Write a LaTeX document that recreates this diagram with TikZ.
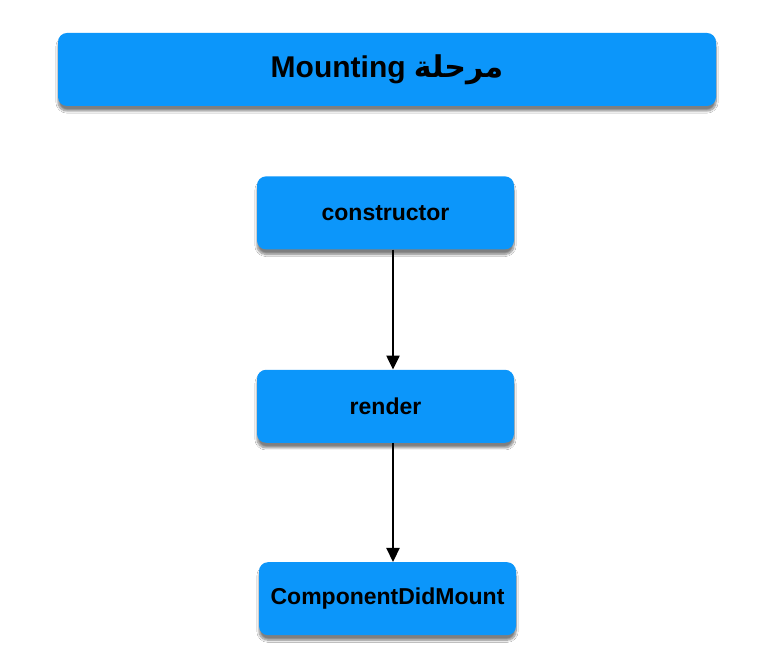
\documentclass[tikz,border=0pt]{standalone}
\usepackage{fontspec}
\setmainfont{Liberation Sans}
\newfontfamily\arabicfont[Script=Arabic]{DejaVu Sans}
\TeXXeTstate=1
\usepackage{tikz}
\usetikzlibrary{positioning,shadows.blur,arrows.meta}
\definecolor{mountblue}{RGB}{12,150,250}
\tikzset{
  phase/.style={fill=mountblue, rounded corners=9pt, minimum height=73pt,
    font=\fontsize{23pt}{27pt}\selectfont\bfseries, text=black,
    blur shadow={shadow xshift=0pt, shadow yshift=-5pt, shadow blur steps=10, shadow opacity=50}},
  stage/.style={phase, minimum width=257pt},
  flow/.style={-{Triangle[length=14pt,width=13pt]}, line width=2.2pt}
}
\begin{document}
\begin{tikzpicture}[x=1pt,y=1pt]
\fill[white] (0,0) rectangle (773,655);
\useasboundingbox (0,0) rectangle (773,655);
\node[phase, minimum width=658pt, font=\fontsize{30pt}{36pt}\selectfont\bfseries] (title) at (387,585.5)
  {Mounting {\arabicfont\beginR مرحلة\endR}};
\node[stage, below=70pt of title, xshift=-1.5pt] (constructor) {constructor};
\node[stage, below=120pt of constructor] (render) {render};
\node[stage, below=119pt of render, xshift=2pt] (didmount) {ComponentDidMount};
\draw[flow] ([xshift=7.5pt]constructor.south) -- ([xshift=7.5pt]render.north);
\draw[flow] ([xshift=7.5pt]render.south) -- ([xshift=5.5pt]didmount.north);
\end{tikzpicture}
\end{document}
